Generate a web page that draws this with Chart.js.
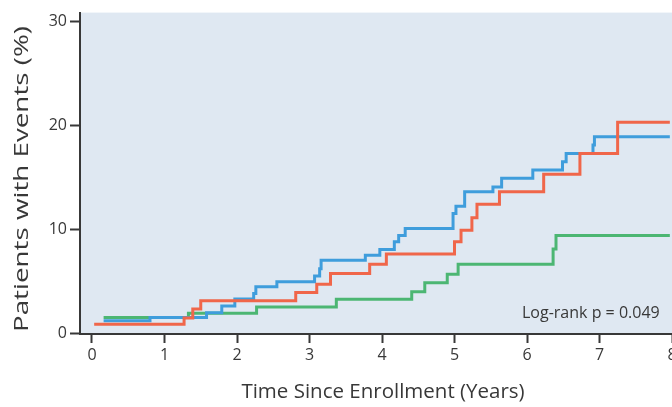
<!DOCTYPE html>
<html><head><meta charset="utf-8">
<script src="https://cdn.jsdelivr.net/npm/chart.js@4/dist/chart.umd.min.js"></script>
<style>
html,body{margin:0;padding:0;overflow:hidden;background:#fff;width:672px;height:407px}
#wrap{position:relative;width:686px;height:407px}
</style></head>
<body><div id="wrap"><canvas id="c" width="686" height="407"></canvas></div>
<script>
// Tick labels
const xTicks = [0,1,2,3,4,5,6,7,8];
const yTicks = [0,10,20,30];

// Series (Kaplan-Meier step curves): event times (years) and cumulative event %
const redTimes  = [0.03,1.27,1.39,1.50,2.81,3.10,3.29,3.83,4.06,5.00,5.09,5.24,5.31,5.62,6.23,6.73,7.25,7.97];
const redValues = [0.84,1.45,2.3,3.1,3.9,4.7,5.74,6.63,7.6,8.78,9.9,11.1,12.4,13.6,15.3,17.3,20.3,20.3];

const blueTimes  = [0.16,0.80,1.58,1.79,1.97,2.23,2.26,2.55,3.07,3.14,3.16,3.77,3.97,4.17,4.23,4.32,4.98,5.02,5.14,5.53,5.65,6.08,6.49,6.54,6.91,6.93,7.97];
const blueValues = [1.18,1.5,1.95,2.6,3.27,3.8,4.45,4.93,5.48,6.2,7.0,7.5,8.05,8.8,9.4,10.07,11.5,12.2,13.6,14.07,14.9,15.7,16.5,17.3,18.1,18.9,18.9];

const greenTimes  = [0.16,1.33,2.27,3.37,4.41,4.59,4.90,5.05,6.36,6.40,7.97];
const greenValues = [1.5,1.9,2.5,3.24,3.97,4.84,5.67,6.63,8.1,9.4,9.4];

const xTitle = 'Time Since Enrollment (Years)';
const yTitle = 'Patients with Events (%)';
const annotationText = 'Log-rank p = 0.049';

const pts = (t, v) => t.map((x, i) => ({x: x, y: v[i]}));
const axisColor = '#383838';
const textColor = '#383838';
const FONT = 'Open Sans';

const bgPlugin = {
  id: 'bg',
  beforeDraw(chart) {
    const {ctx, chartArea: a} = chart;
    ctx.save();
    ctx.fillStyle = '#dfe8f2';
    ctx.fillRect(a.left, a.top, a.right - a.left, a.bottom - a.top);
    ctx.restore();
  },
  afterDraw(chart) {
    const {ctx, scales} = chart;
    ctx.save();
    ctx.font = '500 16px "' + FONT + '"';
    ctx.fillStyle = textColor;
    ctx.textAlign = 'right';
    ctx.textBaseline = 'alphabetic';
    ctx.fillText(annotationText, scales.x.getPixelForValue(7.83), scales.y.getPixelForValue(1.44));
    ctx.restore();

    // y-axis title, rotated; stretched along its length like the reference
    ctx.save();
    ctx.font = '500 20px "' + FONT + '"';
    ctx.fillStyle = textColor;
    ctx.textAlign = 'center';
    ctx.textBaseline = 'alphabetic';
    const w = ctx.measureText(yTitle).width;
    const sx = 306 / w;
    ctx.translate(28, 179);
    ctx.rotate(-Math.PI / 2);
    ctx.scale(sx, 1);
    ctx.fillText(yTitle, 0, 0);
    ctx.restore();
  }
};

const ds = (data, color) => ({
  data: data, borderColor: color, backgroundColor: color, borderWidth: 3,
  pointRadius: 0, pointHoverRadius: 0, stepped: 'before', fill: false, tension: 0,
  borderCapStyle: 'butt', borderJoinStyle: 'miter'
});

new Chart(document.getElementById('c'), {
  type: 'line',
  data: {
    datasets: [
      ds(pts(redTimes, redValues), '#f0664a'),
      ds(pts(blueTimes, blueValues), '#3f9ddc'),
      ds(pts(greenTimes, greenValues), '#4cb673')
    ]
  },
  options: {
    responsive: false,
    animation: false,
    devicePixelRatio: 1,
    layout: {padding: {top: 12, left: 0, right: 0, bottom: 0}},
    plugins: {legend: {display: false}, tooltip: {enabled: false}},
    scales: {
      x: {
        type: 'linear', min: -0.1655, max: 8.193,
        afterBuildTicks: s => { s.ticks = xTicks.map(v => ({value: v})); },
        afterFit: s => { s.height = 73; },
        grid: {display: true, drawOnChartArea: false, drawTicks: true, tickLength: 9, tickWidth: 2, tickColor: axisColor},
        border: {display: true, color: axisColor, width: 2},
        ticks: {color: textColor, font: {family: FONT, size: 16, weight: '500'}, padding: 3, maxRotation: 0, autoSkip: false},
        title: {display: true, text: xTitle, color: textColor,
                font: {family: FONT, size: 20.5, weight: '500'}, padding: {top: 0, bottom: 3}}
      },
      y: {
        type: 'linear', min: -0.096, max: 30.86,
        afterBuildTicks: s => { s.ticks = yTicks.map(v => ({value: v})); },
        afterFit: s => { s.width = 80; },
        grid: {display: true, drawOnChartArea: false, drawTicks: true, tickLength: 10, tickWidth: 2, tickColor: axisColor},
        border: {display: true, color: axisColor, width: 2},
        ticks: {color: textColor, font: {family: FONT, size: 16, weight: '500'}, padding: 3, autoSkip: false},
        title: {display: false}
      }
    }
  },
  plugins: [bgPlugin]
});
</script>
</body></html>
